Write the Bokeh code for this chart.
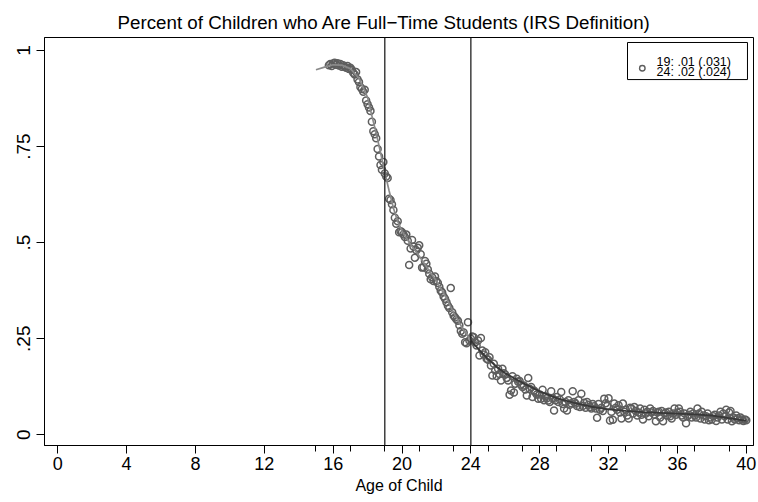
import numpy as np
from bokeh.plotting import figure
from bokeh.models import FixedTicker, Span, Range1d
from bokeh.core.properties import value
from bokeh.embed import file_html
from bokeh.resources import INLINE

FONT = "Liberation Sans"

# Monthly observations start at age 15 years 9 months
first_month = 15 * 12 + 9

# Share of children who are full-time students, one value per month of age
share_full_time = [
    # 15y9m - 15y11m
    0.962, 0.965, 0.960,
    # age 16
    0.966, 0.968, 0.963, 0.967, 0.961, 0.965, 0.958, 0.962, 0.958, 0.955, 0.960, 0.952,
    # age 17
    0.955, 0.950, 0.942, 0.938, 0.944, 0.925, 0.918, 0.905, 0.900, 0.893, 0.898, 0.870,
    # age 18
    0.860, 0.852, 0.843, 0.815, 0.790, 0.782, 0.772, 0.744, 0.724, 0.702, 0.690, 0.710,
    # age 19
    0.680, 0.672, 0.668, 0.614, 0.611, 0.600, 0.585, 0.565, 0.549, 0.556, 0.527, 0.530,
    # age 20
    0.527, 0.521, 0.515, 0.521, 0.505, 0.442, 0.485, 0.507, 0.490, 0.461, 0.480, 0.487,
    # age 21
    0.493, 0.470, 0.435, 0.436, 0.452, 0.445, 0.430, 0.419, 0.405, 0.410, 0.400, 0.412,
    # age 22
    0.400, 0.395, 0.385, 0.375, 0.370, 0.360, 0.354, 0.345, 0.336, 0.330, 0.382, 0.319,
    # age 23
    0.310, 0.305, 0.300, 0.297, 0.285, 0.270, 0.263, 0.266, 0.241, 0.238, 0.293, 0.245,
    # age 24
    0.250, 0.256, 0.254, 0.240, 0.232, 0.245, 0.206, 0.252, 0.219, 0.209, 0.215, 0.198,
    # age 25
    0.195, 0.202, 0.180, 0.154, 0.185, 0.167, 0.153, 0.172, 0.158, 0.141, 0.172, 0.160,
    # age 26
    0.157, 0.148, 0.141, 0.104, 0.115, 0.152, 0.110, 0.133, 0.146, 0.138, 0.140, 0.130,
    # age 27
    0.124, 0.128, 0.118, 0.102, 0.148, 0.120, 0.124, 0.098, 0.115, 0.110, 0.105, 0.094,
    # age 28
    0.105, 0.094, 0.117, 0.090, 0.100, 0.095, 0.089, 0.085, 0.113, 0.095, 0.063, 0.090,
    # age 29
    0.098, 0.085, 0.092, 0.111, 0.080, 0.068, 0.085, 0.063, 0.090, 0.078, 0.082, 0.113,
    # age 30
    0.085, 0.081, 0.075, 0.090, 0.072, 0.107, 0.075, 0.083, 0.070, 0.085, 0.078, 0.072,
    # age 31
    0.068, 0.080, 0.074, 0.068, 0.044, 0.080, 0.065, 0.070, 0.062, 0.094, 0.082, 0.075,
    # age 32
    0.095, 0.037, 0.060, 0.039, 0.081, 0.070, 0.065, 0.077, 0.058, 0.042, 0.081, 0.060,
    # age 33
    0.065, 0.050, 0.042, 0.070, 0.068, 0.055, 0.072, 0.062, 0.050, 0.058, 0.068, 0.052,
    # age 34
    0.040, 0.065, 0.055, 0.060, 0.048, 0.068, 0.058, 0.062, 0.052, 0.035, 0.058, 0.060,
    # age 35
    0.045, 0.062, 0.035, 0.055, 0.058, 0.050, 0.060, 0.048, 0.042, 0.055, 0.068, 0.052,
    # age 36
    0.058, 0.068, 0.060, 0.050, 0.045, 0.055, 0.030, 0.048, 0.052, 0.060, 0.045, 0.055,
    # age 37
    0.050, 0.045, 0.068, 0.055, 0.042, 0.060, 0.050, 0.040, 0.048, 0.055, 0.038, 0.045,
    # age 38
    0.040, 0.048, 0.052, 0.036, 0.045, 0.050, 0.060, 0.040, 0.055, 0.048, 0.065, 0.040,
    # age 39
    0.058, 0.062, 0.035, 0.045, 0.040, 0.050, 0.043, 0.038, 0.045, 0.040, 0.036, 0.040,
    # age 40
    0.038,
]
age_of_child = [(first_month + i) / 12 for i in range(len(share_full_time))]

# Smoothed fits, estimated separately below 19, between 19 and 24, and above 24
fit_young_age = [15.0, 15.5, 16.0, 16.5, 17.0, 17.5, 18.0, 18.25, 18.5, 18.75, 19.0]
fit_young_share = [0.950, 0.957, 0.963, 0.962, 0.953, 0.928, 0.878, 0.830, 0.785, 0.735, 0.683]

fit_mid_age = [19.0, 19.25, 19.5, 19.75, 20.0, 20.5, 21.0, 21.5, 22.0, 22.5, 23.0, 23.5, 24.0]
fit_mid_share = [0.683, 0.635, 0.590, 0.555, 0.530, 0.495, 0.465, 0.432, 0.400, 0.362, 0.318, 0.278, 0.245]

fit_old_age = [24.0, 24.5, 25.0, 25.5, 26.0, 27.0, 28.0, 29.0, 30.0, 31.0, 32.0, 33.0,
               34.0, 35.0, 36.0, 37.0, 38.0, 39.0, 40.0]
fit_old_share = [0.245, 0.220, 0.197, 0.177, 0.160, 0.135, 0.113, 0.095, 0.083, 0.073, 0.066,
                 0.062, 0.059, 0.057, 0.055, 0.053, 0.050, 0.043, 0.036]

# Cutoff ages marked with vertical lines
cutoff_ages = [19, 24]
legend_lines = ["19: .01 (.031)", "24: .02 (.024)"]

x_major = [0, 4, 8, 12, 16, 20, 24, 28, 32, 36, 40]
x_minor = [15, 17, 19, 21, 23, 25, 27, 29, 31, 33, 35, 37, 39]
y_ticks = [0, 0.25, 0.5, 0.75, 1]
y_tick_labels = ["0", ".25", ".5", ".75", "1"]

p = figure(width=758, height=502, output_backend="svg", toolbar_location=None,
           x_range=Range1d(-0.77, 40.42), y_range=Range1d(-0.028, 1.034),
           min_border_left=44, min_border_right=5, min_border_top=37, min_border_bottom=57)
p.background_fill_color = "white"
p.border_fill_color = "white"
p.grid.visible = False
p.outline_line_color = "black"
p.outline_line_width = 1

p.title.text = "Percent of Children who Are Full\u2212Time Students (IRS Definition)"
p.title.align = "left"
p.title.offset = 73
p.title.text_font = FONT
p.title.text_font_size = "18.75px"
p.title.text_font_style = "normal"
p.title.text_color = "black"

# x axis
xa = p.xaxis[0]
xa.ticker = FixedTicker(ticks=x_major, minor_ticks=x_minor)
xa.axis_label = "Age of Child"
xa.axis_label_text_font = FONT
xa.axis_label_text_font_size = "16px"
xa.axis_label_text_font_style = "normal"
xa.axis_label_text_color = "black"
xa.axis_label_standoff = 4
xa.major_label_text_font = FONT
xa.major_label_text_font_size = "18px"
xa.major_label_text_color = "black"
xa.major_label_standoff = 3
xa.major_tick_out = 8
xa.major_tick_in = 0
xa.minor_tick_out = 6
xa.minor_tick_in = 0
xa.axis_line_color = "black"
xa.major_tick_line_color = "black"
xa.minor_tick_line_color = "black"

# y axis
ya = p.yaxis[0]
ya.ticker = FixedTicker(ticks=y_ticks, minor_ticks=[])
ya.major_label_overrides = {t: s for t, s in zip(y_ticks, y_tick_labels)}
ya.major_label_orientation = "vertical"
ya.major_label_text_font = FONT
ya.major_label_text_font_size = "19px"
ya.major_label_text_color = "black"
ya.major_label_standoff = 6
ya.major_tick_out = 8
ya.major_tick_in = 0
ya.minor_tick_line_color = None
ya.axis_line_color = "black"
ya.major_tick_line_color = "black"

# monthly shares
p.scatter(age_of_child, share_full_time, marker="circle", size=7,
          fill_color=None, line_color="#5e5e5e", line_width=1.5)

# fitted curves
p.line(fit_young_age, fit_young_share, line_color="#8a8a8a", line_width=1.7)
p.line(fit_mid_age, fit_mid_share, line_color="#8a8a8a", line_width=1.7)
p.line(fit_old_age, fit_old_share, line_color="#383838", line_width=1.9)

for c in cutoff_ages:
    p.add_layout(Span(location=c, dimension="height", line_color="#222222", line_width=1.3))

# key box
p.quad(left=[33.1], right=[40.07], bottom=[0.9245], top=[1.021],
       fill_color="white", line_color="black", line_width=1)
p.scatter([33.96], [0.954], marker="circle", size=5.5, fill_color=None,
          line_color="#5e5e5e", line_width=1.4)
p.text(x=[34.79, 34.79], y=[0.9696, 0.9454], text=legend_lines,
       text_font=value(FONT), text_font_size="12.5px", text_baseline="middle",
       text_align="left", text_color="black")

open("out.html", "w").write(file_html(p, INLINE))
